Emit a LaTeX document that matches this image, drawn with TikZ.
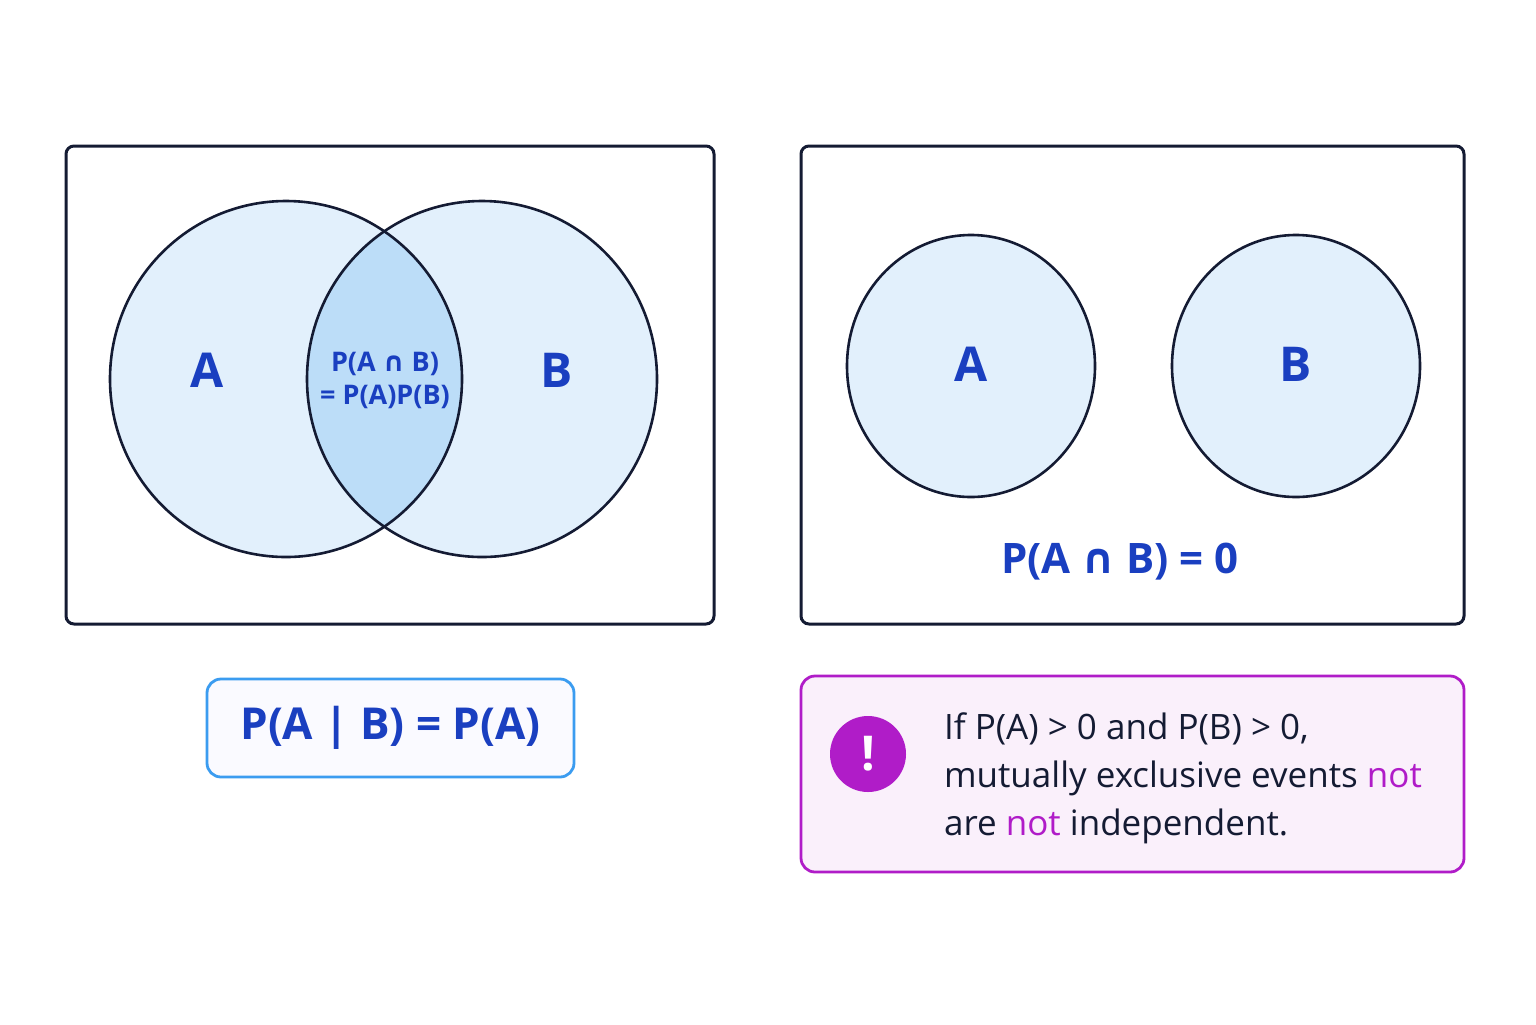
\documentclass[tikz,border=0pt]{standalone}
\usepackage{fontspec}
\setmainfont{Open Sans}
\newfontfamily\djvfont{DejaVu Sans}
\definecolor{ink}{HTML}{141B33}
\definecolor{blu}{HTML}{1A3FC0}
\definecolor{cfill}{HTML}{E2F0FC}
\definecolor{lens}{HTML}{BCDDF8}
\definecolor{bbord}{HTML}{3B9CF0}
\definecolor{mag}{HTML}{B01CC8}
\definecolor{magfill}{HTML}{FAF0FB}
\newcommand{\capx}{{\djvfont\bfseries ∩}}
\begin{document}
\begin{tikzpicture}[x=0.5pt,y=-0.5pt,
 frame/.style={draw=ink,line width=1.5pt,rounded corners=4pt},
 circ/.style={draw=ink,line width=1.3pt,fill=cfill},
 lbl/.style={text=blu,font=\fontsize{24}{28}\selectfont\bfseries}]
\useasboundingbox[fill=white] (0,0) rectangle (1536,1024);
\draw[frame,fill=white] (66,146) rectangle (714,624);
\draw[frame,fill=white] (801,146) rectangle (1464,624);
% Venn
\fill[cfill] (286,379) circle[x radius=176,y radius=178];
\fill[cfill] (482,379) circle[x radius=175,y radius=178];
\begin{scope}
\clip (286,379) circle[x radius=176,y radius=178];
\fill[lens] (482,379) circle[x radius=175,y radius=178];
\end{scope}
\draw[ink,line width=1.3pt] (286,379) circle[x radius=176,y radius=178];
\draw[ink,line width=1.3pt] (482,379) circle[x radius=175,y radius=178];
\node[lbl] (la) at (207,370) {A};
\node[lbl] (lb) at (557,370) {B};
\node[text=blu,font=\fontsize{13.5}{16.5}\selectfont\bfseries,align=center] (lens) at (385,380) {P(A \capx{} B)\\= P(A)P(B)};
% disjoint
\draw[circ] (971,366) circle[x radius=124,y radius=131];
\draw[circ] (1296,366) circle[x radius=124,y radius=131];
\node[lbl] (ra) at (971,364) {A};
\node[lbl] (rb) at (1296,364) {B};
\node[text=blu,font=\fontsize{21}{25}\selectfont\bfseries] (pz) at (1120,562) {P(A \capx{} B) = 0};
% formula box
\node[draw=bbord,line width=1.4pt,rounded corners=7pt,fill=blue!2,minimum width=183.5pt,minimum height=49pt,text=blu,font=\fontsize{22}{26}\selectfont\bfseries] (f) at (390.5,728) {P(A | B) = P(A)};
% warning
\node[draw=mag,line width=1.4pt,rounded corners=7pt,fill=magfill,minimum width=331.5pt,minimum height=98pt] (w) at (1132.5,774) {};
\node[circle,fill=mag,minimum size=38pt,text=white,font=\fontsize{24}{28}\selectfont\bfseries] (ex) at (868,754) {!};
\node[anchor=west,text=ink,align=left,font=\fontsize{17.5}{24}\selectfont] (wt) at (937,778) {If P(A) > 0 and P(B) > 0,\\mutually exclusive events \textcolor{mag}{not}\\are \textcolor{mag}{not} independent.};
\end{tikzpicture}
\end{document}
